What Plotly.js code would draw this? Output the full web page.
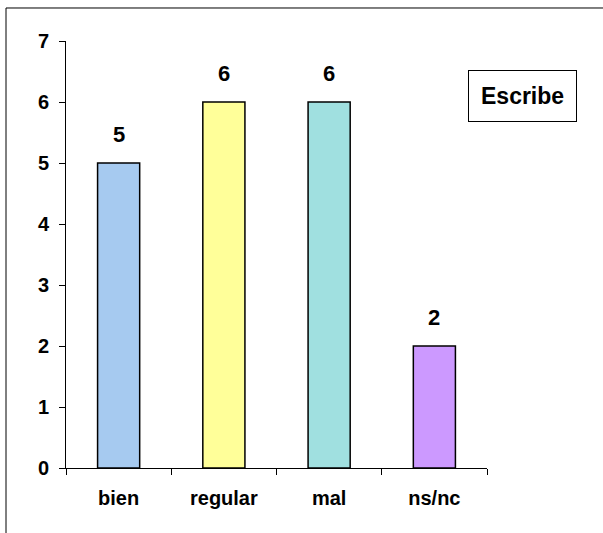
<!DOCTYPE html>
<html>
<head>
<meta charset="utf-8">
<script src="https://cdn.plot.ly/plotly-3.0.1.min.js"></script>
<style>
html,body{margin:0;padding:0;background:#fff;}
#chart{width:603px;height:533px;}
</style>
</head>
<body>
<div id="chart"></div>
<script>
const categories = ["bien", "regular", "mal", "ns/nc"];
const values = [5, 6, 6, 2];
const barColors = ["#A6CAF0", "#FFFF99", "#A0E0E0", "#CC99FF"];
const yTicks = [0, 1, 2, 3, 4, 5, 6, 7];
const boxLabel = "Escribe";

const FONT = "Liberation Sans, Arial, sans-serif";

const trace = {
  type: "bar",
  x: categories,
  y: values,
  marker: {color: barColors, line: {color: "#000", width: 1.5}},
  width: 0.4,
  hoverinfo: "skip"
};

const labelAnns = categories.map((c, i) => ({
  x: c, y: values[i], xref: "x", yref: "y",
  text: "<b>" + values[i] + "</b>",
  showarrow: false, yanchor: "bottom", yshift: 14,
  font: {family: FONT, size: 22, color: "#000"}
}));

const layout = {
  width: 603, height: 533,
  margin: {l: 66, r: 116, t: 41, b: 65},
  paper_bgcolor: "#fff", plot_bgcolor: "#fff",
  showlegend: false,
  xaxis: {
    type: "category",
    showline: true, linecolor: "#000", linewidth: 1,
    ticks: "outside", tickson: "boundaries", ticklen: 6, tickcolor: "#000", tickwidth: 1,
    showgrid: false, zeroline: false,
    tickfont: {family: FONT, size: 20, color: "#000", weight: "bold"},
    ticklabelstandoff: 12,
    fixedrange: true
  },
  yaxis: {
    range: [0, 7],
    tickvals: yTicks,
    showline: true, linecolor: "#000", linewidth: 1,
    ticks: "outside", ticklen: 6, tickcolor: "#000", tickwidth: 1,
    showgrid: false, zeroline: false,
    tickfont: {family: FONT, size: 20, color: "#000", weight: "bold"},
    ticklabelstandoff: 6,
    fixedrange: true
  },
  shapes: [{
    type: "rect", xref: "paper", yref: "paper",
    x0: -0.1425, x1: 1.5, y0: -0.2, y1: 1.0773,
    line: {color: "#000", width: 1}, fillcolor: "rgba(0,0,0,0)", layer: "below"
  }],
  annotations: labelAnns.concat([{
    xref: "paper", yref: "paper", x: 1.0855, y: 0.872,
    xanchor: "center", yanchor: "middle",
    text: "<b>" + boxLabel + "</b>", showarrow: false,
    font: {family: FONT, size: 23, color: "#000"},
    bordercolor: "#000", borderwidth: 1, borderpad: 12, bgcolor: "#fff"
  }])
};

Plotly.newPlot("chart", [trace], layout, {displayModeBar: false, staticPlot: true});
</script>
</body>
</html>
